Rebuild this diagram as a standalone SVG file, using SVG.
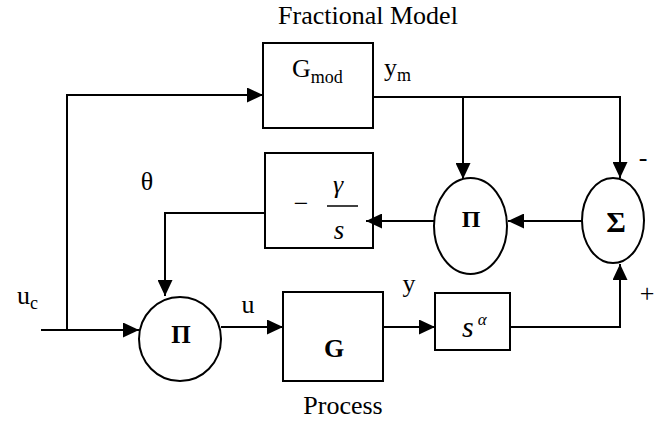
<svg xmlns="http://www.w3.org/2000/svg" width="672" height="423" viewBox="0 0 672 423">
<style>
.box{fill:#fff;stroke:#000;stroke-width:2}
.node{fill:#fff;stroke:#000;stroke-width:2}
.wire{fill:none;stroke:#000;stroke-width:2}
.t{font-family:"Liberation Serif","Times New Roman",serif;font-size:26px;fill:#000}
.sub{font-family:"Liberation Serif","Times New Roman",serif;font-size:18px;fill:#000}
.b{font-weight:bold}
.i{font-style:italic}
</style>
<defs>
<marker id="arr" markerUnits="userSpaceOnUse" markerWidth="16" markerHeight="15" refX="16" refY="7.5" orient="auto">
<path d="M0,0 L16,7.5 L0,15 z" fill="#000"/>
</marker>
</defs>
<rect width="672" height="423" fill="#fff"/>
<g id="connectors">
<path class="wire" d="M67,330 V95 H263" marker-end="url(#arr)"/>
<path class="wire" d="M41,330 H139" marker-end="url(#arr)"/>
<path class="wire" d="M265,213 H165 V296" marker-end="url(#arr)"/>
<path class="wire" d="M221,327 H283" marker-end="url(#arr)"/>
<path class="wire" d="M381,327 H435" marker-end="url(#arr)"/>
<path class="wire" d="M510,327 H620 V264" marker-end="url(#arr)"/>
<path class="wire" d="M373,97 H620 V178" marker-end="url(#arr)"/>
<path class="wire" d="M463,97 V179" marker-end="url(#arr)"/>
<path class="wire" d="M582,221 H508" marker-end="url(#arr)"/>
</g>
<g id="gmod">
<rect class="box" x="263" y="43" width="110" height="85"/>
<text class="t" x="368" y="24" text-anchor="middle">Fractional Model</text>
<text class="t" x="292" y="77">G<tspan class="sub" y="83">mod</tspan></text>
</g>
<g id="ym-label">
<text class="t" x="384" y="76">y<tspan class="sub" y="81">m</tspan></text>
</g>
<g id="gain">
<rect class="box" x="265" y="153" width="108" height="95"/>
<text class="t" x="301" y="212" text-anchor="middle">−</text>
<line x1="327" y1="206" x2="358" y2="206" stroke="#000" stroke-width="1.5"/>
<text class="t i" x="338" y="193" text-anchor="middle">γ</text>
<text class="t i" x="339" y="239" text-anchor="middle" style="font-size:27px">s</text>
</g>
<path class="wire" d="M434,221 H366" marker-end="url(#arr)"/>
<g id="prod-mid">
<ellipse class="node" cx="470.5" cy="226" rx="36.5" ry="48"/>
<text class="t b" x="471" y="227" text-anchor="middle" style="font-size:24px">Π</text>
</g>
<g id="sum">
<ellipse class="node" cx="613" cy="220.5" rx="31" ry="42.5"/>
<text class="t b" x="616" y="232" text-anchor="middle" style="font-size:30px">Σ</text>
<text class="t" x="643" y="166" text-anchor="middle">-</text>
<text class="t" x="647" y="302" text-anchor="middle">+</text>
</g>
<g id="theta-label">
<text class="t" x="147" y="190" text-anchor="middle">θ</text>
</g>
<g id="uc-label">
<text class="t" x="17" y="304">u<tspan class="sub" y="309">c</tspan></text>
</g>
<g id="prod-main">
<ellipse class="node" cx="180" cy="339" rx="41" ry="42"/>
<text class="t b" x="181" y="343" text-anchor="middle" style="font-size:25px">Π</text>
</g>
<g id="u-label">
<text class="t" x="248" y="313" text-anchor="middle">u</text>
</g>
<g id="process">
<rect class="box" x="283" y="292" width="100" height="89"/>
<text class="t b" x="334" y="357" text-anchor="middle">G</text>
<text class="t" x="343" y="414" text-anchor="middle">Process</text>
</g>
<g id="y-label">
<text class="t" x="409" y="292" text-anchor="middle">y</text>
</g>
<g id="frac">
<rect class="box" x="435" y="293" width="75" height="57"/>
<text class="t i" x="462" y="337" style="font-size:30px">s<tspan style="font-size:17px" dx="4" y="325">α</tspan></text>
</g>
</svg>
